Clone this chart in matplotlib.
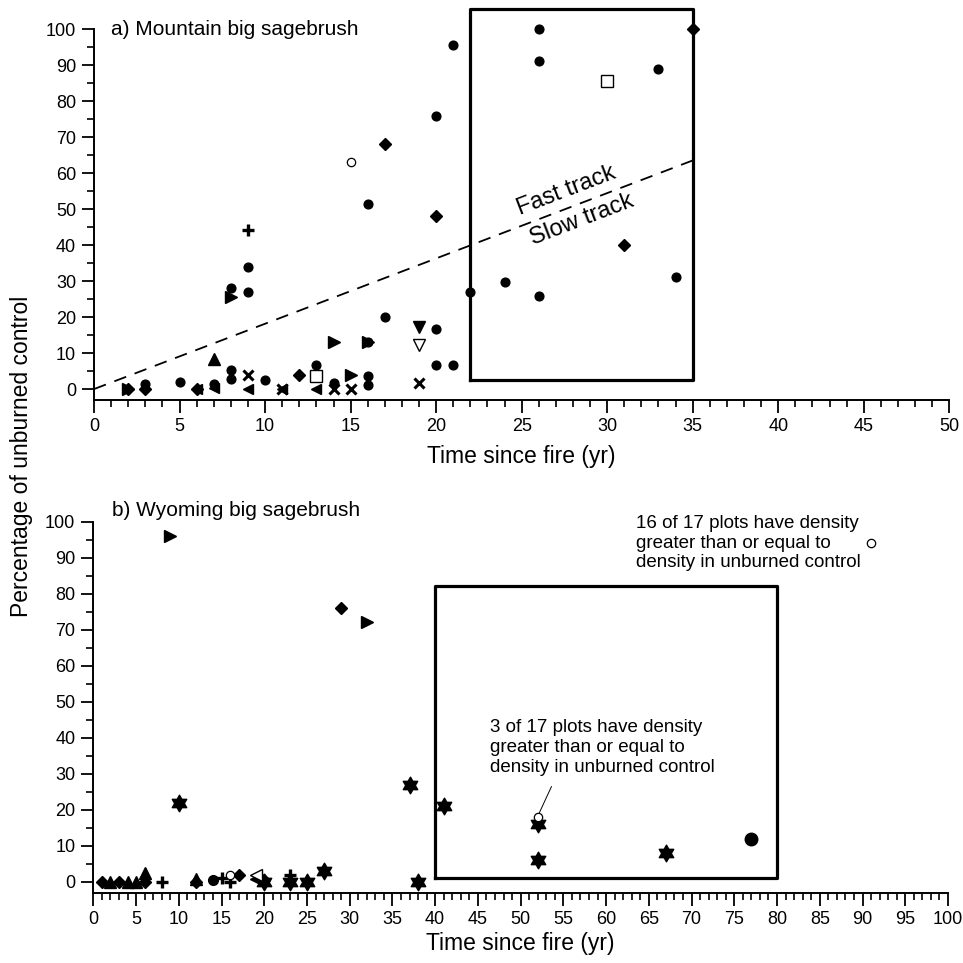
import numpy as np
import matplotlib
matplotlib.use('Agg')
import matplotlib.pyplot as plt
from matplotlib.path import Path
from matplotlib.ticker import MultipleLocator, FixedLocator

plt.rcParams['font.family'] = ['Liberation Sans', 'DejaVu Sans']

# a) Mountain big sagebrush  (time since fire, % of unburned control)
a_circle_x = [3, 5, 7, 8, 8, 8, 9, 9, 10, 13, 14, 16, 16, 16, 16, 17, 20, 20, 20, 21, 21, 22, 24, 26, 26, 26, 33, 34]
a_circle_y = [1.4, 2, 1.5, 5.3, 2.7, 28.2, 34, 27, 2.5, 6.7, 1.6, 13, 3.6, 1.1, 51.4, 20.1, 16.7, 6.7, 75.9, 6.7, 95.6, 27, 29.6, 25.8, 100, 91.2, 89, 31]
a_diamond_x = [2, 3, 6, 12, 17, 20, 31, 35]
a_diamond_y = [0, 0, 0, 4, 68, 48, 40, 100]
a_right_x = [2, 8, 14, 15, 16]
a_right_y = [0, 25.5, 13.1, 4, 13]
a_left_x = [6, 7, 9, 11, 13]
a_left_y = [0, 0.3, 0, 0, 0]
a_cross_x = [9, 11, 14, 15, 19]
a_cross_y = [3.9, 0, 0, 0, 1.6]
a_plus_x = [9]
a_plus_y = [44.2]
a_up_x = [7]
a_up_y = [8.3]
a_down_x = [19]
a_down_y = [17.1]
a_opendown_x = [19]
a_opendown_y = [12.2]
a_opencircle_x = [15]
a_opencircle_y = [63]
a_opensquare_x = [13, 30]
a_opensquare_y = [3.7, 85.6]

# b) Wyoming big sagebrush
b_right_x = [9, 32]
b_right_y = [96, 72]
b_diamond_x = [1, 3, 6, 12, 17, 20, 29]
b_diamond_y = [0, 0, 0, 0, 2, 0.5, 76]
b_up_x = [2, 4, 5, 6, 12]
b_up_y = [0, 0, 0, 2.5, 0.8]
b_plus_x = [8, 15, 16, 23]
b_plus_y = [0, 1, 0, 2]
b_circle_x = [14]
b_circle_y = [0.5]
b_bigcircle_x = [77]
b_bigcircle_y = [12]
b_opencircle_x = [16, 52, 91]
b_opencircle_y = [2, 18, 94]
b_openleft_x = [19]
b_openleft_y = [2]
b_left_x = [19]
b_left_y = [0.8]
b_star_x = [10, 20, 23, 25, 27, 37, 38, 41, 52, 52, 67]
b_star_y = [22, 0, 0, 0, 3, 27, 0, 21, 16, 6, 8]

# six-pointed star marker
ang = np.deg2rad(90 + 30 * np.arange(12))
rad = np.where(np.arange(12) % 2 == 0, 1.0, 1 / np.sqrt(3))
verts = np.column_stack([rad * np.cos(ang), rad * np.sin(ang)])
verts = np.vstack([verts, verts[0]])
hexagram = Path(verts, closed=True)

fig = plt.figure(figsize=(9.63, 9.63), dpi=100)
ax1 = fig.add_axes([0.0977, 0.5848, 0.888, 0.4112])
ax2 = fig.add_axes([0.0969, 0.0732, 0.8875, 0.3888])

k = dict(linestyle='none', color='black', clip_on=False, zorder=3)
ko = dict(linestyle='none', color='black', markerfacecolor='white', clip_on=False, zorder=3)

ax1.plot(a_circle_x, a_circle_y, 'o', ms=6.3, **k)
ax1.plot(a_diamond_x, a_diamond_y, 'D', ms=6.5, **k)
ax1.plot(a_right_x, a_right_y, '>', ms=8, **k)
ax1.plot(a_left_x, a_left_y, '<', ms=7.5, **k)
ax1.plot(a_cross_x, a_cross_y, 'x', ms=6.5, mew=2.2, **k)
ax1.plot(a_plus_x, a_plus_y, '+', ms=8.5, mew=2.4, **k)
ax1.plot(a_up_x, a_up_y, '^', ms=8, **k)
ax1.plot(a_down_x, a_down_y, 'v', ms=9, **k)
ax1.plot(a_opendown_x, a_opendown_y, 'v', ms=9, mew=1, **ko)
ax1.plot(a_opencircle_x, a_opencircle_y, 'o', ms=6, mew=0.9, **ko)
ax1.plot(a_opensquare_x, a_opensquare_y, 's', ms=8, mew=1, **ko)

ax2.plot(b_right_x, b_right_y, '>', ms=8, **k)
ax2.plot(b_diamond_x, b_diamond_y, 'D', ms=6.5, **k)
ax2.plot(b_up_x, b_up_y, '^', ms=8.5, **k)
ax2.plot(b_plus_x, b_plus_y, '+', ms=8.5, mew=2.4, **k)
ax2.plot(b_circle_x, b_circle_y, 'o', ms=7, **k)
ax2.plot(b_bigcircle_x, b_bigcircle_y, 'o', ms=9, **k)
ax2.plot(b_left_x, b_left_y, '<', ms=8, **k)
ax2.plot(b_star_x, b_star_y, marker=hexagram, ms=12, **k)
ax2.plot(b_openleft_x, b_openleft_y, '<', ms=8, mew=1, **ko)
ax2.plot(b_opencircle_x, b_opencircle_y, 'o', ms=6, mew=0.9, **ko)

# fast/slow track line and boxes
ax1.plot([0, 35], [0, 63.5], color='black', lw=1.3, dashes=(7, 5), zorder=2)
ax1.plot([22, 35, 35, 22, 22], [2.5, 2.5, 105.7, 105.7, 2.5], color='black', lw=2.3, clip_on=False, zorder=2)
ax2.plot([40, 80, 80, 40, 40], [1, 1, 82, 82, 1], color='black', lw=2.3, clip_on=False, zorder=2)

ax1.text(27.6, 55.2, 'Fast track', fontsize=17, rotation=21, ha='center', va='center')
ax1.text(28.5, 47.0, 'Slow track', fontsize=17, rotation=21, ha='center', va='center')
ax1.text(1.0, 100, 'a) Mountain big sagebrush', fontsize=15, ha='left', va='center')
ax2.text(2.15, 103.2, 'b) Wyoming big sagebrush', fontsize=15, ha='left', va='center', clip_on=False)

ax2.text(46.4, 37.3, '3 of 17 plots have density\ngreater than or equal to\ndensity in unburned control',
         fontsize=13.5, ha='left', va='center', linespacing=1.2)
ax2.plot([53.6, 52.2], [26.4, 19.2], color='black', lw=0.7)
ax2.text(63.5, 94, '16 of 17 plots have density\ngreater than or equal to\ndensity in unburned control',
         fontsize=13.5, ha='left', va='center', linespacing=1.2, clip_on=False)

for ax, xmax, ytop, lpad in [(ax1, 50, 107, 7), (ax2, 100, 101, 3)]:
    ax.set_xlim(0, xmax)
    ax.set_ylim(-3, ytop)
    ax.spines['top'].set_visible(False)
    ax.spines['right'].set_visible(False)
    ax.spines['left'].set_bounds(-3, 100)
    for s in ['left', 'bottom']:
        ax.spines[s].set_linewidth(1.4)
    ax.xaxis.set_major_locator(MultipleLocator(5))
    ax.xaxis.set_minor_locator(MultipleLocator(1))
    ax.yaxis.set_major_locator(FixedLocator(np.arange(0, 101, 10)))
    ax.yaxis.set_minor_locator(FixedLocator(np.arange(5, 100, 10)))
    ax.tick_params(which='major', direction='out', length=9, width=1.3, labelsize=13, pad=4)
    ax.tick_params(which='minor', direction='out', length=5, width=1.2)
    ax.set_xlabel('Time since fire (yr)', fontsize=16.5, labelpad=lpad)

fig.text(0.022, 0.5265, 'Percentage of unburned control', fontsize=16.5, rotation=90, ha='center', va='center')

fig.savefig('out.png', dpi=100)
